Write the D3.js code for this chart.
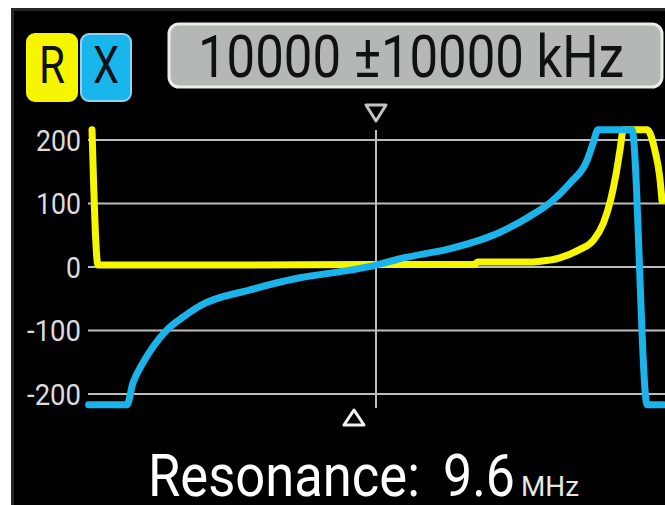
<!DOCTYPE html>
<html>
<head>
<meta charset="utf-8">
<script src="https://cdn.jsdelivr.net/npm/d3@7"></script>
<style>
  body { margin: 0; background: #fff; }
  svg { display: block; }
  text { font-family: Roboto, "Noto Sans", sans-serif; }
</style>
</head>
<body>
<div id="chart"></div>
<script>
// Data (MHz / ohms, clipped at the display limits)
const rFreq   = [0.07, 0.28, 5, 10, 13.45, 13.55, 15.5, 15.75, 16.4, 17.1, 17.6, 17.95, 18.2, 18.4, 18.53, 18.65, 19.48, 19.75, 19.92, 20];
const rValues = [216, 3, 3, 4, 4, 8, 8, 9, 14, 27, 42, 69, 105, 148, 184, 216, 216, 184, 142, 105];

const xFreq   = [-0.05, 1.29, 1.5, 1.85, 2.2, 2.69, 3.25, 3.85, 5.6, 7.34, 9.09, 10, 10.84, 12.59, 13.6, 14.3, 15.38, 16.08, 16.78, 17.38, 17.59, 17.76, 18.95, 19.48, 20.05];
const xValues = [-217, -217, -183, -151, -126, -99, -79, -61, -36, -17, -5, 3, 13, 29, 42, 54, 80, 101, 132, 168, 195, 216, 216, -217, -217];

const yTicks = [200, 100, 0, -100, -200];
const centerKHz = 10000, spanKHz = 10000;
const resonanceMHz = 9.6;
const markerFreq = 9.23;   // position of the lower marker

const width = 665, height = 505;

const svg = d3.select("#chart").append("svg")
  .attr("width", width).attr("height", height);

// narrow text: squeeze horizontally to a target width
function narrowText(parent, tx, ty, str, size, fill, target, anchor) {
  const g = parent.append("g");
  const t = g.append("text")
    .attr("font-size", size).attr("fill", fill)
    .attr("text-anchor", anchor || "start")
    .text(str);
  const w = t.node().getComputedTextLength();
  g.attr("transform", `translate(${tx},${ty}) scale(${target / w},1)`);
  return g;
}

// screen panel
svg.append("rect")
  .attr("x", 12.5).attr("y", 9.5)
  .attr("width", width).attr("height", height)
  .attr("fill", "#000").attr("stroke", "#262626").attr("stroke-width", 3);

const x = d3.scaleLinear().domain([0, 20]).range([90, 662]);
const y = d3.scaleLinear().domain([-200, 200]).range([394, 140]);

// grid
svg.selectAll(".grid").data(yTicks).join("line")
  .attr("x1", 88).attr("x2", width)
  .attr("y1", d => y(d)).attr("y2", d => y(d))
  .attr("stroke", "#bdbdbd").attr("stroke-width", 2);

svg.append("line")
  .attr("x1", x(centerKHz / 1000)).attr("x2", x(centerKHz / 1000))
  .attr("y1", 130).attr("y2", 408)
  .attr("stroke", "#bdbdbd").attr("stroke-width", 2);

// tick labels
yTicks.forEach(d => {
  narrowText(svg, 81, y(d) + 10.5, d, 29, "#dcdcdc", d < 0 ? 54 : (d === 0 ? 15 : 45), "end");
});

// curves
const line = d3.line().x(d => x(d[0])).y(d => y(d[1])).curve(d3.curveMonotoneX);

svg.append("path")
  .datum(d3.zip(rFreq, rValues))
  .attr("d", line)
  .attr("fill", "none").attr("stroke", "#f6f600")
  .attr("stroke-width", 7).attr("stroke-linejoin", "round").attr("stroke-linecap", "round");

svg.append("path")
  .datum(d3.zip(xFreq, xValues))
  .attr("d", line)
  .attr("fill", "none").attr("stroke", "#1ab4ea")
  .attr("stroke-width", 7).attr("stroke-linejoin", "round").attr("stroke-linecap", "round");

// markers
const cx = x(centerKHz / 1000);
svg.append("path")
  .attr("d", `M${cx - 10},${105} L${cx + 10},${105} L${cx},${121} Z`)
  .attr("fill", "none").attr("stroke", "#c4c4c4").attr("stroke-width", 3).attr("stroke-linejoin", "round");

const mx = x(markerFreq);
svg.append("path")
  .attr("d", `M${mx - 10},${425} L${mx + 10},${425} L${mx},${410} Z`)
  .attr("fill", "none").attr("stroke", "#f2f2f2").attr("stroke-width", 3).attr("stroke-linejoin", "round");

// legend boxes
const legend = [
  { label: "R", color: "#f6f600", stroke: "#f6f600", x: 26 },
  { label: "X", color: "#19b6ee", stroke: "#8fd3f0", x: 80 }
];
legend.forEach(d => {
  svg.append("rect")
    .attr("x", d.x + 1).attr("y", 34)
    .attr("width", 50).attr("height", 67).attr("rx", 8)
    .attr("fill", d.color).attr("stroke", d.stroke).attr("stroke-width", 2);
  narrowText(svg, d.x + 26, 83, d.label, 51, "#111", 26, "middle");
});

// frequency box
svg.append("rect")
  .attr("x", 169).attr("y", 24).attr("width", 493).attr("height", 63).attr("rx", 10)
  .attr("fill", "#b4b8b4").attr("stroke", "#ececec").attr("stroke-width", 3);
narrowText(svg, 198, 77, `${centerKHz} ±${spanKHz} kHz`, 59, "#111", 426);

// resonance readout
narrowText(svg, 148, 496, "Resonance:", 60, "#fff", 272);
narrowText(svg, 443, 496, resonanceMHz.toFixed(1), 60, "#fff", 72);
narrowText(svg, 521, 496, "MHz", 28, "#e6e6e6", 58);
</script>
</body>
</html>
